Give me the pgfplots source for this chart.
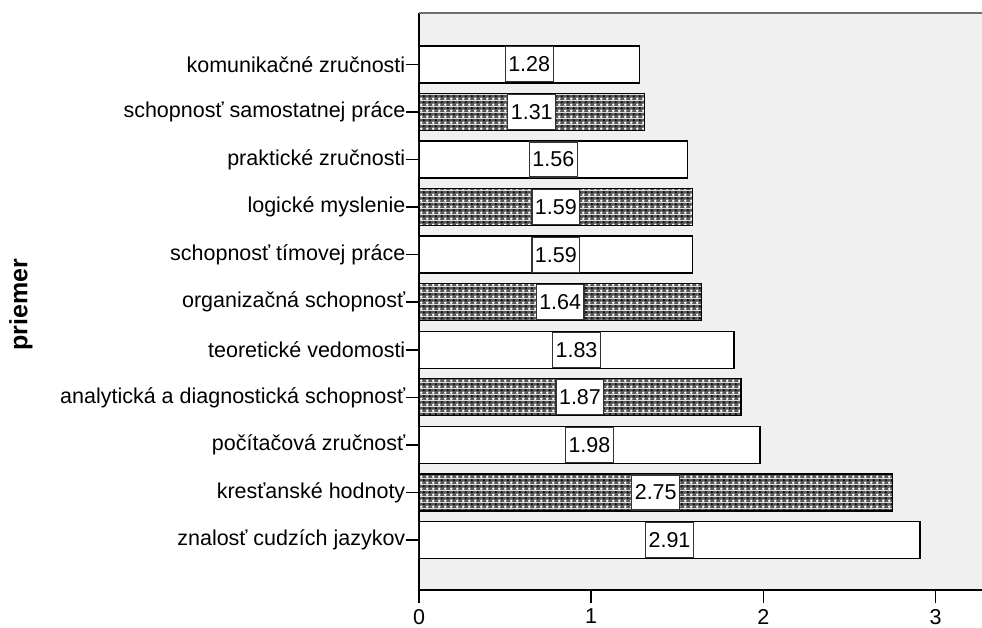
\documentclass[border=0pt]{standalone}
\usepackage{fontspec}
\setmainfont{Liberation Sans}
\usepackage{pgfplots}
\pgfplotsset{compat=1.18}
\usepackage{pgfplotstable}
\usetikzlibrary{patterns.meta}

\definecolor{spssbg}{RGB}{240,240,240}
\definecolor{framegray}{RGB}{110,110,110}

% SPSS-like dark mesh with white dots
\tikzdeclarepattern{
  name=spssdots,
  type=colored,
  bounding box={(0,0) and (6bp,6bp)},
  tile size={(6bp,6bp)},
  code={
    \fill[black!65] (0,0) rectangle (6bp,6bp);
    \fill[white] (1.5bp,1.5bp) circle (1.55bp);
    \fill[black] (4.5bp,4.5bp) circle (1.3bp);
  }
}

% white bars
\pgfplotstableread{
idx val
0 2.91
2 1.98
4 1.83
6 1.59
8 1.56
10 1.28
}\whitebars

% hatched bars
\pgfplotstableread{
idx val
1 2.75
3 1.87
5 1.64
7 1.59
9 1.31
}\dotbars

% all values, for the boxed labels
\pgfplotstableread{
idx val lab
0 2.91 2.91
1 2.75 2.75
2 1.98 1.98
3 1.87 1.87
4 1.83 1.83
5 1.64 1.64
6 1.59 1.59
7 1.59 1.59
8 1.56 1.56
9 1.31 1.31
10 1.28 1.28
}\alldata

\newcommand{\txt}{\fontsize{21.5bp}{25bp}\selectfont}

\begin{document}
\begin{tikzpicture}
\path[use as bounding box] (-419bp,-38bp) rectangle (563bp,590bp);
\begin{axis}[
    at={(0,0)}, anchor=south west,
    width=563bp, height=577bp, scale only axis,
    xmin=0, xmax=3.27,
    ymin=-1.05, ymax=11.08,
    axis background/.style={fill=spssbg},
    axis lines*=left,
    axis line style={-, line width=2bp, black},
    tick align=outside,
    major tick length=13bp,
    tick style={black, line width=1.6bp},
    xtick={0,1,2,3},
    ytick={0,...,10},
    yticklabels={znalosť cudzích jazykov, kresťanské hodnoty, počítačová zručnosť,
        analytická a diagnostická schopnosť, teoretické vedomosti, organizačná schopnosť,
        schopnosť tímovej práce, logické myslenie, praktické zručnosti,
        schopnosť samostatnej práce, komunikačné zručnosti},
    ticklabel style={font=\txt},
    yticklabel style={inner xsep=0.5bp},
    xticklabel style={inner ysep=2bp, yshift=-4bp},
    /pgf/number format/assume math mode=true,
    ylabel={priemer},
    every axis y label/.style={at={(rel axis cs:0,0.5)}, xshift=-398bp, yshift=-3bp,
        rotate=90, anchor=center, font=\fontsize{25bp}{28bp}\selectfont\bfseries},
    xbar, bar width=37bp,
]
\addplot[xbar, bar shift=0pt, draw=black, line width=1.3bp, fill=white]
    table[x=val, y=idx] {\whitebars};
\addplot[xbar, bar shift=0pt, draw=black, line width=1.3bp, pattern=spssdots]
    table[x=val, y=idx] {\dotbars};
\addplot[only marks, mark=none, point meta=explicit symbolic,
    nodes near coords,
    every node near coord/.style={anchor=center, fill=white, draw=black!80,
        line width=1.2bp, inner xsep=3bp, inner ysep=0pt, minimum height=35bp, font=\txt}]
    table[x expr=\thisrow{val}/2, y=idx, meta=lab] {\alldata};
\draw[framegray, line width=3bp] (rel axis cs:0,1) -- (rel axis cs:1,1);
\end{axis}
\end{tikzpicture}
\end{document}
